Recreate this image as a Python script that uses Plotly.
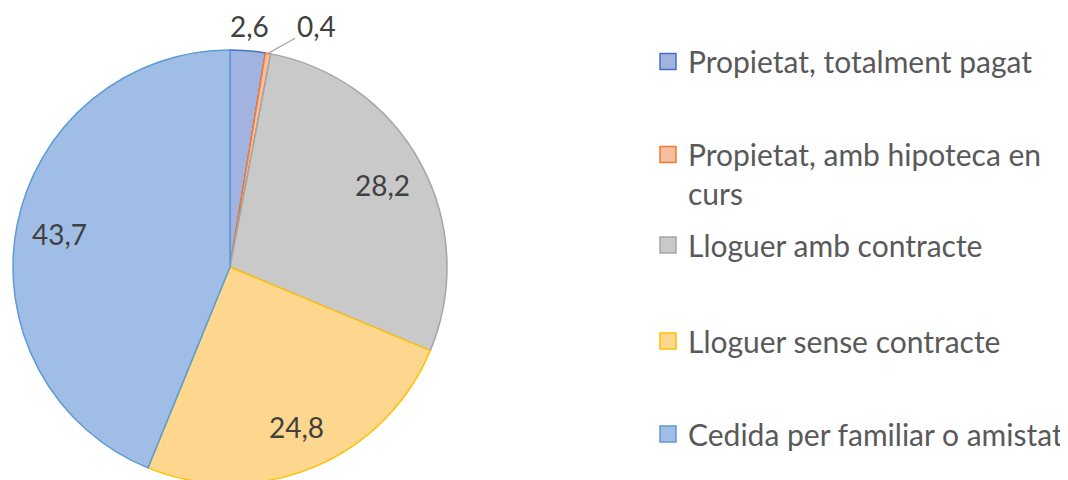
import math
import plotly.graph_objects as go

# ---- data ----
categories = [
    "Propietat, totalment pagat",
    "Propietat, amb hipoteca en curs",
    "Lloguer amb contracte",
    "Lloguer sense contracte",
    "Cedida per familiar o amistat",
]
legend_labels = [
    "Propietat, totalment pagat",
    "Propietat, amb hipoteca en<br>curs",
    "Lloguer amb contracte",
    "Lloguer sense contracte",
    "Cedida per familiar o amistat",
]
values = [2.6, 0.4, 28.2, 24.8, 43.7]

# ---- styles ----
fill_colors = ["#a3b3e0", "#f7bda0", "#c9c9c9", "#fdd78e", "#a0bee5"]
line_colors = ["#4472c4", "#ed7d31", "#a5a5a5", "#ffc000", "#5b9bd5"]
# radial position of each data label (fraction of radius)
label_radius = [1.115, 1.0, 0.8, 0.8, 0.8]
label_leader = [None, (48, -27), None, None, None]

W, H = 1068, 480
OFF = 8  # page body margin offset (screen px = figure px + OFF)
cx, cy, r = 230 - OFF, 267 - OFF, 217   # pie centre/radius in figure px
FONT = "Lato"

fig = go.Figure()
fig.add_trace(go.Pie(
    labels=categories,
    values=values,
    sort=False,
    direction="clockwise",
    rotation=0,
    marker=dict(colors=fill_colors, line=dict(color=line_colors, width=1.5)),
    textinfo="none",
    domain=dict(x=[(cx - r) / W, (cx + r) / W], y=[(H - cy - r) / H, (H - cy + r) / H]),
    showlegend=False,
))

# data labels placed at each slice's mid angle
total = sum(values)
cum = 0.0
for v, f, lead in zip(values, label_radius, label_leader):
    mid = (cum + v / 2) / total * 2 * math.pi
    cum += v
    px = cx + f * r * math.sin(mid)
    py = cy - f * r * math.cos(mid)
    txt = f"{v:.1f}".replace(".", ",")
    ann = dict(
        x=px / W, y=1 - py / H, xref="paper", yref="paper",
        text=txt, font=dict(family=FONT, size=28, color="#404040"),
        xanchor="center", yanchor="middle",
    )
    if lead:
        ann.update(showarrow=True, arrowhead=0, arrowwidth=1.2, arrowcolor="#a6a6a6",
                   ax=lead[0], ay=lead[1], standoff=0, startstandoff=0)
    else:
        ann.update(showarrow=False)
    fig.add_annotation(**ann)

legend_centers = [61.5, 154.5, 245, 341, 434]   # screen px
legend_x_px = 648 - OFF
layout_legends = {}
for i, lab in enumerate(legend_labels):
    key = "legend" if i == 0 else f"legend{i + 1}"
    fig.add_trace(go.Scatter(
        x=[None], y=[None], mode="markers", name=lab,
        marker=dict(symbol="square", size=16, color=fill_colors[i],
                    line=dict(color=line_colors[i], width=1.5)),
        legend=key, hoverinfo="skip",
    ))
    layout_legends[key] = dict(
        x=legend_x_px / W, xanchor="left",
        y=1 - (legend_centers[i] - OFF - 26) / H, yanchor="top",
        valign="top",
        bgcolor="rgba(0,0,0,0)", borderwidth=0,
        font=dict(family=FONT, size=30, color="#595959"),
    )

fig.update_layout(
    width=W, height=H,
    margin=dict(l=0, r=0, t=0, b=0, autoexpand=False),
    paper_bgcolor="white", plot_bgcolor="white",
    font=dict(family=FONT, color="#595959"),
    xaxis=dict(visible=False), yaxis=dict(visible=False),
    **layout_legends,
)

fig.write_html("out.html")
